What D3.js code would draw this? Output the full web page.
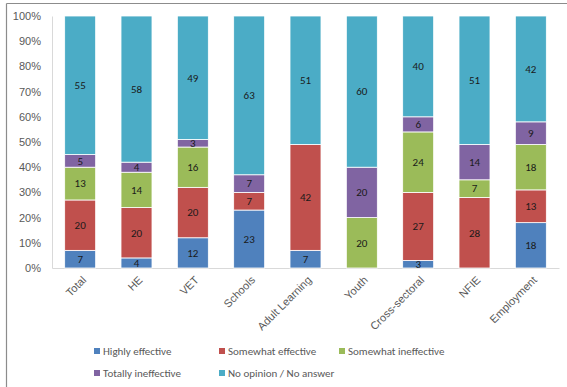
<!DOCTYPE html>
<html>
<head>
<meta charset="utf-8">
<script src="https://cdn.jsdelivr.net/npm/d3@7"></script>
<style>
  body { margin: 0; background: #fff; }
  svg { font-family: Calibri, Carlito, "Liberation Sans", Arial, sans-serif; }
  .axis text { fill: #595959; font-size: 11px; }
  .axis path, .axis line { stroke: #d9d9d9; }
</style>
</head>
<body>
<div id="chart"></div>
<script>
// categories and series (percent)
var categories = ["Total", "HE", "VET", "Schools", "Adult Learning", "Youth", "Cross-sectoral", "NFIE", "Employment"];
var seriesNames = ["Highly effective", "Somewhat effective", "Somewhat ineffective", "Totally ineffective", "No opinion / No answer"];
var highlyEffective     = [7, 4, 12, 23, 7, 0, 3, 0, 18];
var somewhatEffective   = [20, 20, 20, 7, 42, 0, 27, 28, 13];
var somewhatIneffective = [13, 14, 16, 0, 0, 20, 24, 7, 18];
var totallyIneffective  = [5, 4, 3, 7, 0, 20, 6, 14, 9];
var noOpinion           = [55, 58, 49, 63, 51, 60, 40, 51, 42];
var yTicks = [0, 10, 20, 30, 40, 50, 60, 70, 80, 90, 100];

var colors = ["#4f81bd", "#c0504d", "#9bbb59", "#8064a2", "#4bacc6"];

var W = 567, H = 387;
var margin = {top: 16, right: 8, bottom: 119, left: 52};
var width = W - margin.left - margin.right;
var height = H - margin.top - margin.bottom;

var svg = d3.select("#chart").append("svg")
  .attr("width", W)
  .attr("height", H);

// outer frame (top + left edges visible)
svg.append("line").attr("x1", 6.5).attr("x2", W).attr("y1", 3.5).attr("y2", 3.5)
  .attr("stroke", "#8c8c8c").attr("stroke-width", 1.2);
svg.append("line").attr("x1", 6.5).attr("x2", 6.5).attr("y1", 3.5).attr("y2", H)
  .attr("stroke", "#8c8c8c").attr("stroke-width", 1.2);

var g = svg.append("g")
  .attr("transform", "translate(" + margin.left + "," + margin.top + ")");

// build table
var table = categories.map(function(c, i) {
  return {
    cat: c,
    s0: highlyEffective[i],
    s1: somewhatEffective[i],
    s2: somewhatIneffective[i],
    s3: totallyIneffective[i],
    s4: noOpinion[i]
  };
});
var keys = ["s0", "s1", "s2", "s3", "s4"];
var stacked = d3.stack().keys(keys)(table);

var x = d3.scaleBand().domain(categories).range([0, width]).paddingInner(0.45).paddingOuter(0.225);
var y = d3.scaleLinear().domain([0, 100]).range([height, 0]);

// Y axis
var yAxis = g.append("g").attr("class", "axis")
  .call(d3.axisLeft(y).tickValues(yTicks).tickSize(0).tickPadding(11)
    .tickFormat(function(d) { return d + "%"; }));
yAxis.select(".domain").attr("stroke", "#d9d9d9");

// X axis
var xAxis = g.append("g").attr("class", "axis")
  .attr("transform", "translate(0," + height + ")")
  .call(d3.axisBottom(x).tickSize(0).tickPadding(0));
xAxis.select(".domain").attr("stroke", "#d9d9d9");
xAxis.selectAll("text")
  .attr("text-anchor", "end")
  .attr("dy", "0.35em")
  .attr("transform", "translate(4,10) rotate(-45)");

// bars
var layers = g.selectAll(".layer")
  .data(stacked)
  .enter().append("g")
  .attr("class", "layer")
  .attr("fill", function(d, i) { return colors[i]; });

layers.selectAll("rect")
  .data(function(d) { return d; })
  .enter().append("rect")
  .filter(function(d) { return d[1] - d[0] > 0; })
  .attr("x", function(d) { return x(d.data.cat); })
  .attr("width", x.bandwidth())
  .attr("y", function(d) { return y(d[1]); })
  .attr("height", function(d) { return y(d[0]) - y(d[1]); })
  .attr("stroke", "#fff")
  .attr("stroke-width", 0.8);

// value labels
layers.selectAll("text")
  .data(function(d) { return d.filter(function(p) { return p[1] - p[0] > 0; }); })
  .enter().append("text")
  .attr("x", function(d) { return x(d.data.cat) + x.bandwidth() / 2; })
  .attr("y", function(d) { return y((d[0] + d[1]) / 2); })
  .attr("dy", "0.35em")
  .attr("text-anchor", "middle")
  .attr("fill", "#1a1a1a")
  .style("font-size", "11px")
  .text(function(d) { return d[1] - d[0]; });

// legend
var legendPos = [[94, 351], [219, 351], [339, 351], [94, 373], [219, 373]];
var legend = svg.selectAll(".legend")
  .data(seriesNames)
  .enter().append("g")
  .attr("class", "legend")
  .attr("transform", function(d, i) { return "translate(" + legendPos[i][0] + "," + legendPos[i][1] + ")"; });
legend.append("rect")
  .attr("x", 0).attr("y", -3)
  .attr("width", 6).attr("height", 6)
  .attr("fill", function(d, i) { return colors[i]; });
legend.append("text")
  .attr("x", 9).attr("dy", "0.35em")
  .attr("fill", "#595959")
  .style("font-size", "11px")
  .text(function(d) { return d; });
</script>
</body>
</html>
